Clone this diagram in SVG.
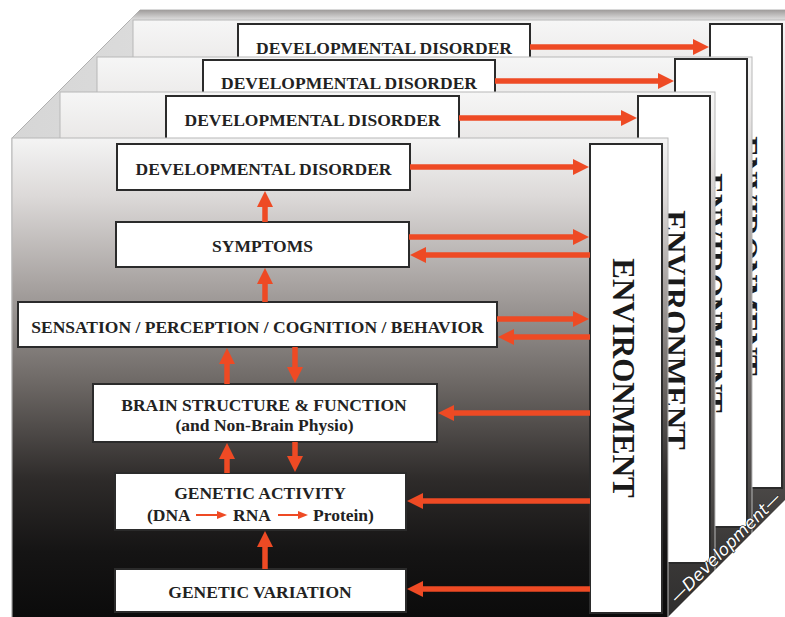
<svg xmlns="http://www.w3.org/2000/svg" width="785" height="617" viewBox="0 0 785 617">
<defs>
<style>
.box{fill:#fff;stroke:#2b2b2b;stroke-width:2}
.lbl{font-family:"Liberation Serif","Times New Roman",serif;font-weight:bold;font-size:17.5px;fill:#222;text-anchor:middle}
.lbs{font-family:"Liberation Serif","Times New Roman",serif;font-weight:bold;font-size:17.5px;fill:#222;text-anchor:start}
.env{font-family:"Liberation Serif","Times New Roman",serif;font-weight:bold;font-size:31px;fill:#1a1a1a;text-anchor:middle}
.arr{stroke:#EE4A24;stroke-width:5.5;fill:none;marker-end:url(#ah)}
.arrs{stroke:#EE4A24;stroke-width:2;fill:none;marker-end:url(#ahs)}
.bface{fill:url(#bgrad);stroke:#b8b8b8;stroke-width:1}
.dev{font-family:"DejaVu Sans",Verdana,sans-serif;font-style:oblique;font-size:17px;fill:#fff;stroke:#2a2a2a;stroke-width:1.2;paint-order:stroke;text-anchor:middle}
</style>
<linearGradient id="fgrad" x1="0" y1="0" x2="0" y2="1">
<stop offset="0" stop-color="#f4f4f4"/>
<stop offset="0.12" stop-color="#dcd9d8"/>
<stop offset="0.3" stop-color="#a8a3a1"/>
<stop offset="0.5" stop-color="#6e6966"/>
<stop offset="0.7" stop-color="#2e2b2a"/>
<stop offset="0.85" stop-color="#151414"/>
<stop offset="1" stop-color="#0a0a0a"/>
</linearGradient>
<linearGradient id="bgrad" x1="0" y1="0" x2="0" y2="1">
<stop offset="0" stop-color="#f6f6f6"/>
<stop offset="0.1" stop-color="#e8e6e5"/>
<stop offset="0.35" stop-color="#a5a09e"/>
<stop offset="0.6" stop-color="#6a6664"/>
<stop offset="0.85" stop-color="#3c3a39"/>
<stop offset="1" stop-color="#2e2d2d"/>
</linearGradient>
<linearGradient id="tgrad" x1="0" y1="0" x2="1" y2="0">
<stop offset="0" stop-color="#d6d6d6"/>
<stop offset="1" stop-color="#f4f4f4"/>
</linearGradient>
<linearGradient id="band" x1="0" y1="0" x2="0" y2="1">
<stop offset="0" stop-color="#9f9c9b"/>
<stop offset="1" stop-color="#e0e0e0"/>
</linearGradient>
<marker id="ah" markerUnits="userSpaceOnUse" markerWidth="16" markerHeight="16" refX="1" refY="8" orient="auto">
<path d="M0,0 L16,8 L0,16 z" fill="#EE4A24"/>
</marker>
<marker id="ahs" markerUnits="userSpaceOnUse" markerWidth="10" markerHeight="8" refX="1" refY="4" orient="auto">
<path d="M0,0 L10,4 L0,8 z" fill="#EE4A24"/>
</marker>
</defs>
<rect x="0" y="0" width="785" height="617" fill="#fff"/>
<g id="block-top">
<polygon points="12,138 140,10 795,10 795,480 668,617 12,617" fill="url(#tgrad)" stroke="#b0b0b0" stroke-width="1"/>
<polygon points="140,10 795,10 795,20 130,20" fill="url(#band)"/>
</g>
<g id="layer4">
<rect class="bface" x="133" y="20" width="660" height="605"/>
<g id="l4-dd"><rect class="box" x="238" y="24" width="292" height="46"/><text class="lbl" x="384" y="54">DEVELOPMENTAL DISORDER</text></g>
<g id="l4-env"><rect class="box" x="710" y="24" width="72" height="464"/><text class="env" transform="translate(736,256) rotate(90)">ENVIRONMENT</text></g>
</g>
<g id="layer3">
<rect class="bface" x="97" y="57" width="655" height="568"/>
<g id="l3-dd"><rect class="box" x="203" y="60" width="292" height="46"/><text class="lbl" x="349" y="89">DEVELOPMENTAL DISORDER</text></g>
<g id="l3-env"><rect class="box" x="675" y="59" width="72" height="468"/><text class="env" transform="translate(701,293) rotate(90)">ENVIRONMENT</text></g>
</g>
<g id="layer2">
<rect class="bface" x="60" y="92" width="655" height="533"/>
<g id="l2-dd"><rect class="box" x="166" y="96" width="293" height="46"/><text class="lbl" x="312.5" y="126">DEVELOPMENTAL DISORDER</text></g>
<g id="l2-env"><rect class="box" x="638" y="96" width="72" height="467"/><text class="env" transform="translate(664,330) rotate(90)">ENVIRONMENT</text></g>
</g>
<g id="development-axis">
<polygon points="640,645 668,617 795,490 795,645" fill="#fff"/>
<text class="dev" transform="translate(729.5,551.5) rotate(-45)">—Development—</text>
</g>
<g id="front-layer">
<rect x="12" y="138" width="656" height="487" fill="url(#fgrad)" stroke="#b8b8b8" stroke-width="1"/>
</g>
<g id="node-dd"><rect class="box" x="117" y="144" width="293" height="46"/><text class="lbl" x="263.5" y="175">DEVELOPMENTAL DISORDER</text></g>
<g id="node-symptoms"><rect class="box" x="116" y="222" width="293" height="45"/><text class="lbl" x="262.5" y="252">SYMPTOMS</text></g>
<g id="node-sensation"><rect class="box" x="18" y="302" width="479" height="45"/><text class="lbl" x="257.5" y="333">SENSATION / PERCEPTION / COGNITION / BEHAVIOR</text></g>
<g id="node-brain"><rect class="box" x="93" y="384" width="344" height="58"/><text class="lbl" x="264" y="411">BRAIN STRUCTURE &amp; FUNCTION</text><text class="lbl" x="264.5" y="431">(and Non-Brain Physio)</text></g>
<g id="node-genetic-activity"><rect class="box" x="115" y="473" width="291" height="57"/><text class="lbl" x="260" y="499">GENETIC ACTIVITY</text><text class="lbs" x="147" y="521">(DNA</text><text class="lbs" x="233" y="521">RNA</text><text class="lbs" x="313" y="521">Protein)</text><path class="arrs" d="M196,515 H218"/><path class="arrs" d="M278,515 H299"/></g>
<g id="node-genetic-variation"><rect class="box" x="115" y="569" width="291" height="43"/><text class="lbl" x="260" y="598">GENETIC VARIATION</text></g>
<g id="node-environment"><rect class="box" x="590" y="144" width="72" height="469"/><text class="env" transform="translate(613,378) rotate(90)">ENVIRONMENT</text></g>
<g id="connectors">
<path class="arr" d="M410,167 H574"/>
<path class="arr" d="M409,237 H574"/>
<path class="arr" d="M497,319 H574"/>
<path class="arr" d="M459,118 H622"/>
<path class="arr" d="M495,81 H659"/>
<path class="arr" d="M530,47 H694"/>
<path class="arr" d="M590,255 H425"/>
<path class="arr" d="M590,337 H513"/>
<path class="arr" d="M590,413 H453"/>
<path class="arr" d="M590,501 H422"/>
<path class="arr" d="M590,589 H422"/>
<path class="arr" d="M265,222 V206"/>
<path class="arr" d="M265,302 V283"/>
<path class="arr" d="M227,384 V363"/>
<path class="arr" d="M295,347 V368"/>
<path class="arr" d="M227,473 V458"/>
<path class="arr" d="M295,442 V457"/>
<path class="arr" d="M265,569 V546"/>
</g>
</svg>
